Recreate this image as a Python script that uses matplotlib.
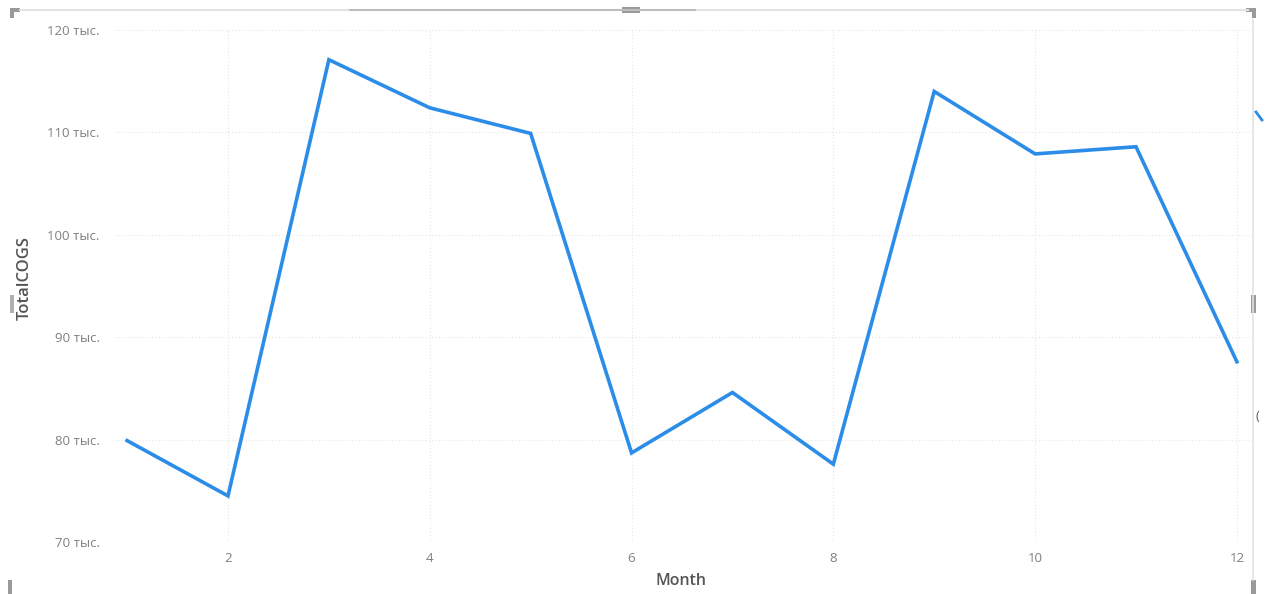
import matplotlib.pyplot as plt
from matplotlib.lines import Line2D
from matplotlib.patches import Rectangle

months = [1, 2, 3, 4, 5, 6, 7, 8, 9, 10, 11, 12]
total_cogs = [79.9, 74.5, 117.1, 112.4, 109.9, 78.7, 84.6, 77.6, 114.0, 107.9, 108.6, 87.6]  # тыс.
y_ticks = [70, 80, 90, 100, 110, 120]
x_ticks = [2, 4, 6, 8, 10, 12]

plt.rcParams['font.family'] = ['Open Sans', 'DejaVu Sans']

W, H = 1266, 594
fig = plt.figure(figsize=(W / 100, H / 100), dpi=100)
ax = fig.add_axes([115 / W, 1 - 542 / H, (1250 - 115) / W, (542 - 30) / H])

ax.plot(months, total_cogs, color='#2b8de8', lw=2.6, solid_joinstyle='miter')

ax.set_xlim(0.88, 12.13)
ax.set_ylim(70, 120)
ax.set_xticks(x_ticks)
ax.set_yticks(y_ticks)
ax.set_yticklabels([f'{v} тыс.' for v in y_ticks])
ax.tick_params(length=0, colors='#808080')
ax.tick_params(axis='y', pad=11, labelsize=9.5)
ax.tick_params(axis='x', pad=7, labelsize=9.5)

ax.grid(True, color='#e6e6e6', lw=0.8, ls=(0, (1, 2)))
ax.set_axisbelow(True)
for s in ax.spines.values():
    s.set_visible(False)

fig.text(681 / W, 1 - 581 / H, 'Month', ha='center', va='center',
         fontsize=11.5, color='#555555', fontweight='semibold')
fig.text(25 / W, 1 - 278 / H, 'TotalCOGS', rotation=90, ha='center', va='center',
         fontsize=12, color='#555555', fontweight='semibold')

# visual frame and resize handles
def fline(x0, y0, x1, y1, c='#d9d9d9', lw=1.2):
    fig.add_artist(Line2D([x0 / W, x1 / W], [1 - y0 / H, 1 - y1 / H], color=c, lw=lw))

def handle(x, y, w, h, c='#9a9a9a'):
    fig.add_artist(Rectangle((x / W, 1 - (y + h) / H), w / W, h / H, color=c, lw=0))

fline(20, 10, 1248, 10, c='#e3e3e3', lw=1.5)
fline(350, 10, 695, 10, c='#b5b5b5', lw=1.2)
fline(1253, 20, 1253, 580, c='#e3e3e3', lw=1.2)
handle(10, 8, 10, 4)
handle(10, 8, 4, 10)
handle(622, 7, 18, 6)
handle(1246, 8, 10, 4)
handle(1252, 8, 4, 10)
handle(1251, 295, 5, 18)
handle(1251, 580, 5, 14)
handle(8, 580, 4, 14)
handle(10, 295, 4, 18, c='#b0b0b0')
fig.add_artist(Line2D([1256 / W, 1262 / W], [1 - 112 / H, 1 - 120 / H], color='#2b8de8', lw=2))
fig.text(1255 / W, 1 - 416 / H, '(', fontsize=9, color='#555555', va='center')

fig.savefig('out.png', dpi=100)
